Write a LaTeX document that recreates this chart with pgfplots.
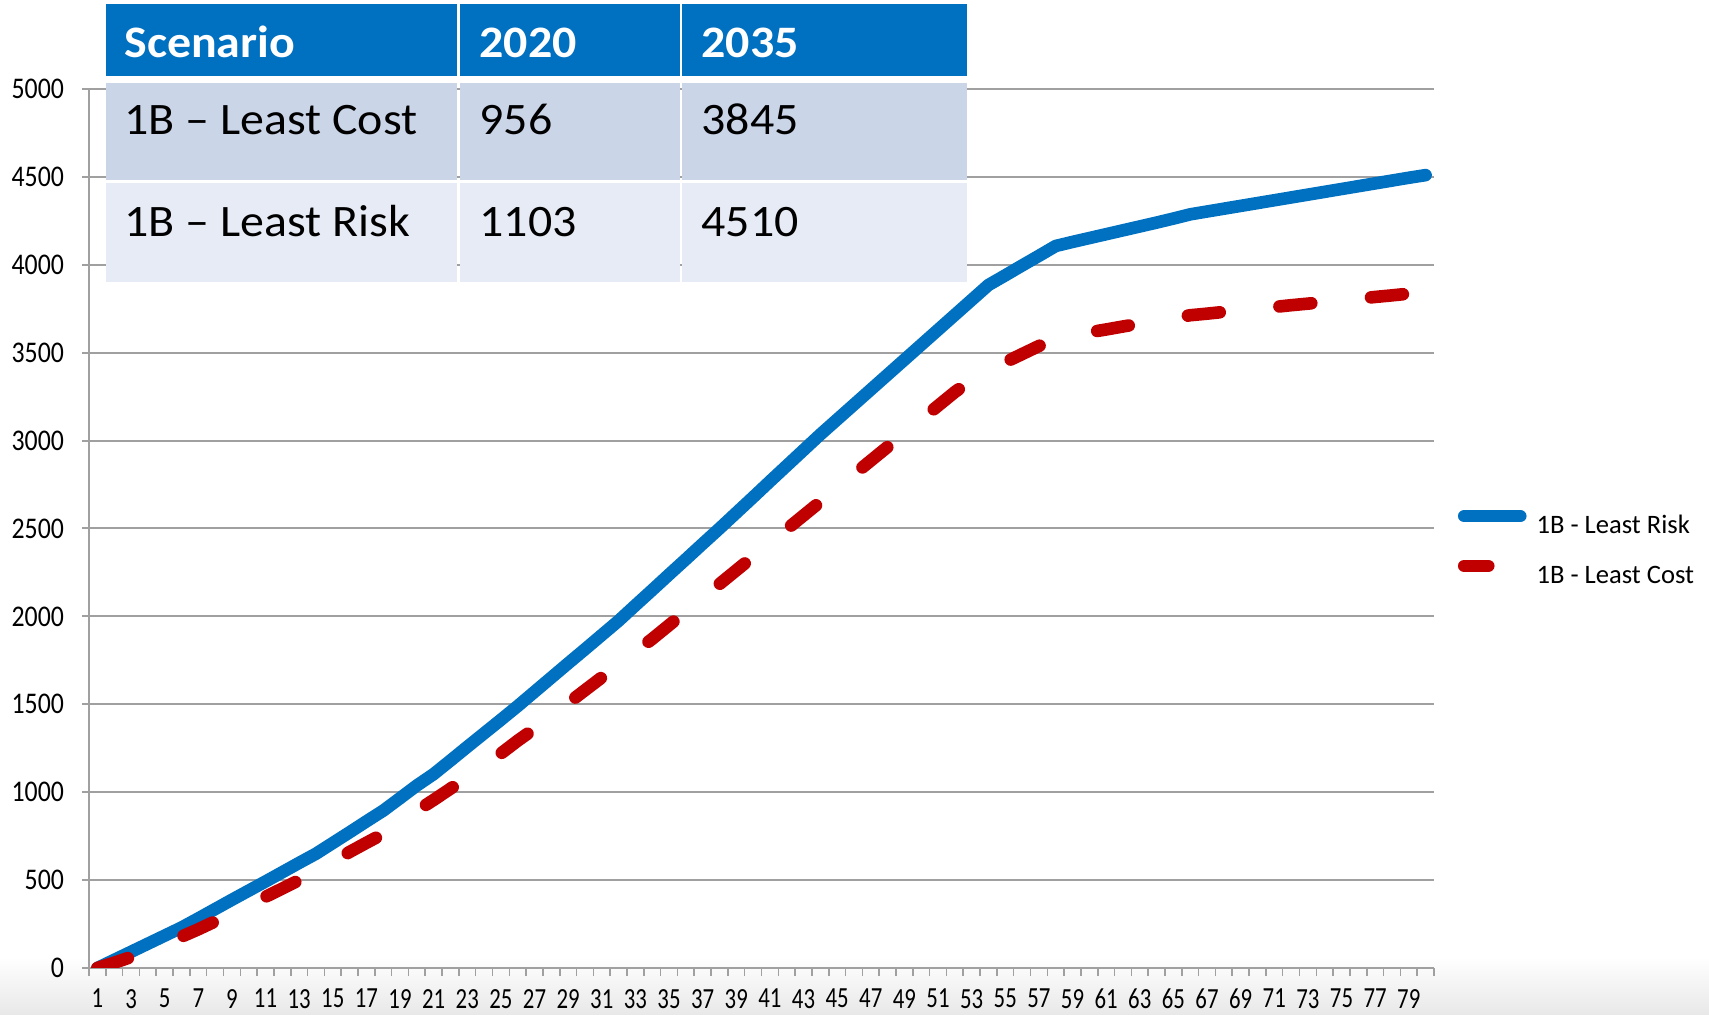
\documentclass[border=0pt]{standalone}
\usepackage{pgfplots}
\usepackage{pgfplotstable}
\pgfplotsset{compat=1.18}
\usepackage{fontspec}
\setmainfont{Carlito}
\definecolor{bl}{HTML}{0070C0}
\definecolor{rd}{HTML}{C00000}
\definecolor{rowA}{HTML}{CBD5E8}
\definecolor{rowB}{HTML}{E7EBF5}
\definecolor{gridc}{HTML}{A0A0A0}
\pgfplotsset{
  legblue/.style={legend image code/.code={\draw[##1] (0pt,4.4pt) -- (28pt,4.4pt);}},
  legred/.style={legend image code/.code={\draw[##1] (0pt,4.4pt) -- (12pt,4.4pt);}},
}
\newcommand{\tb}[1]{\scalebox{1.065}[1]{#1}}

\pgfplotstableread{
x blue red
1 0 0
2 46 30
3 92 62
4 138 100
5 184 140
6 230 178
7 282 220
8 335 265
9 388 312
10 440 360
11 492 405
12 545 452
13 598 500
14 650 550
15 711 602
16 772 660
17 834 712
18 895 763
19 966 829
20 1038 894
21 1103 956
22 1180 1020
23 1258 1084
24 1335 1152
25 1412 1220
26 1490 1293
27 1571 1361
28 1652 1434
29 1733 1507
30 1813 1580
31 1894 1653
32 1975 1726
33 2063 1799
34 2150 1872
35 2238 1950
36 2325 2028
37 2413 2106
38 2500 2184
39 2589 2262
40 2678 2340
41 2768 2418
42 2857 2496
43 2946 2574
44 3035 2652
45 3120 2730
46 3205 2808
47 3290 2886
48 3375 2964
49 3460 3042
50 3545 3120
51 3630 3198
52 3715 3276
53 3800 3345
54 3885 3400
55 3940 3446
56 3996 3492
57 4051 3538
58 4107 3584
59 4130 3600
60 4152 3616
61 4174 3632
62 4196 3649
63 4218 3665
64 4240 3681
65 4263 3697
66 4287 3713
67 4303 3722
68 4319 3732
69 4335 3741
70 4351 3751
71 4367 3760
72 4383 3770
73 4399 3779
74 4415 3789
75 4431 3798
76 4447 3807
77 4463 3817
78 4479 3826
79 4495 3836
80 4510 3845
}\data

\begin{document}
\begin{tikzpicture}
\useasboundingbox (0,0) rectangle (854.5pt,507.5pt);
\shade[top color=white, bottom color=black!9] (0,0) rectangle (854.5pt,29pt);
\begin{axis}[
  at={(44.5pt,23.5pt)}, anchor=south west,
  scale only axis, width=672.5pt, height=439.5pt,
  xmin=0.5, xmax=80.5, ymin=0, ymax=5000,
  axis x line*=bottom, axis y line*=left,
  axis line style={gridc, line width=1pt, -},
  xtick={1,3,...,79},
  minor xtick={0.5,1.5,...,80.5},
  major x tick style={draw=none},
  minor x tick style={gridc, line width=0.8pt},
  minor tick length=4pt,
  ytick={0,500,...,5000},
  major y tick style={gridc, line width=1pt},
  major tick length=3.5pt,
  tick align=outside,
  ymajorgrids, grid style={gridc, line width=1pt},
  /pgf/number format/1000 sep={},
  /pgf/number format/assume math mode=true,
  yticklabel={\scalebox{0.86}[1]{\pgfmathprintnumber{\tick}}},
  yticklabel style={font=\fontsize{15}{15}\selectfont, black, xshift=-5.5pt},
  xticklabel={\scalebox{0.78}[1]{\pgfmathprintnumber{\tick}}},
  xticklabel style={font=\fontsize{14.6}{14.6}\selectfont, black, yshift=-3.5pt},
  legend style={at={(1.0178,0.5212)}, anchor=north west, draw=none, fill=none,
    inner sep=0pt, outer sep=0pt, row sep=13pt, column sep=5pt,
    font=\fontsize{13.3}{13.3}\selectfont,
    nodes={inner sep=0pt, text height=8.6pt, text depth=0pt}},
  legend cell align=left,
]
\addplot[bl, line width=6.3pt, line join=round, line cap=round, legblue]
  table[x=x, y=blue]{\data};
\addlegendentry{1B - Least Risk}
\addplot[rd, line width=6.3pt, line join=round, line cap=round, dash pattern=on 16pt off 30pt, legred]
  table[x=x, y=red]{\data};
\addlegendentry{1B - Least Cost}
\end{axis}
\begin{scope}[x=0.5pt, y=-0.5pt, shift={(0pt,507.5pt)}]
\fill[bl] (106,4) rectangle (457,76);
\fill[bl] (460,4) rectangle (680,76);
\fill[bl] (682,4) rectangle (967,76);
\fill[rowA] (106,83) rectangle (457,180);
\fill[rowA] (460,83) rectangle (680,180);
\fill[rowA] (682,83) rectangle (967,180);
\fill[rowB] (106,183) rectangle (457,282);
\fill[rowB] (460,183) rectangle (680,282);
\fill[rowB] (682,183) rectangle (967,282);
\begin{scope}[every node/.style={anchor=base west, inner sep=0pt, font=\fontsize{22.5}{27}\selectfont}]
\node[text=white, font=\fontsize{22.5}{27}\selectfont\bfseries] at (124,58) {\tb{Scenario}};
\node[text=white, font=\fontsize{22.5}{27}\selectfont\bfseries] at (479,58) {\tb{2020}};
\node[text=white, font=\fontsize{22.5}{27}\selectfont\bfseries] at (701,58) {\tb{2035}};
\node at (124,135) {\tb{1B – Least Cost}};
\node at (479,135) {\tb{956}};
\node at (701,135) {\tb{3845}};
\node at (124,237) {\tb{1B – Least Risk}};
\node at (479,237) {\tb{1103}};
\node at (701,237) {\tb{4510}};
\end{scope}
\end{scope}
\end{tikzpicture}
\end{document}
